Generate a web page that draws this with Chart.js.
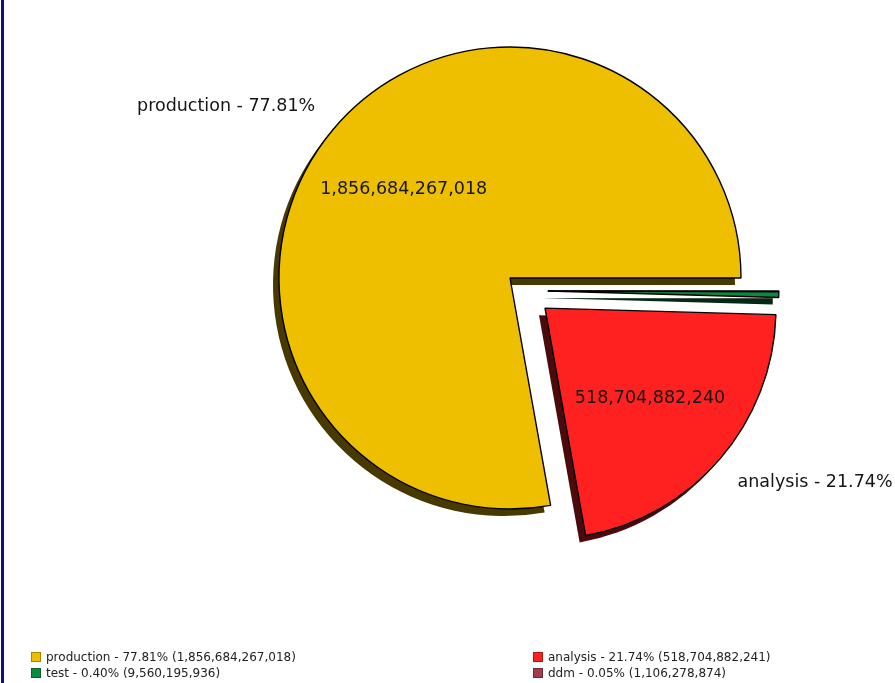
<!DOCTYPE html>
<html><head><meta charset="utf-8">
<script src="https://cdn.jsdelivr.net/npm/chart.js@4/dist/chart.umd.min.js"></script>
<style>
html,body{margin:0;padding:0;background:#fff;}
#wrap{position:relative;width:895px;height:683px;overflow:hidden;background:#fff;}
#c{position:absolute;left:0;top:0;}
#edge{position:absolute;left:1px;top:0;width:3px;height:683px;background:#10107f;}
.leg{position:absolute;font:12px "DejaVu Sans";color:#222;white-space:nowrap;line-height:16px;height:16px;}
.leg i{display:inline-block;width:10px;height:10px;box-sizing:border-box;border:1px solid rgba(0,0,0,.3);vertical-align:-1px;margin-right:5px;}
</style></head>
<body><div id="wrap"><canvas id="c" width="895" height="683"></canvas><div id="edge"></div><div id="legend"></div></div>
<script>
// ---- data ----
const categories = ['production', 'analysis', 'test', 'ddm'];
const values = [1856684267018, 518704882241, 9560195936, 1106278874];
const percentLabels = ['77.81%', '21.74%', '0.40%', '0.05%'];
const valueLabels = ['1,856,684,267,018', '518,704,882,241', '9,560,195,936', '1,106,278,874'];
const wedgeLabels = ['production - 77.81%', 'analysis - 21.74%', '', ''];
const insideLabels = ['1,856,684,267,018', '518,704,882,240', '', ''];

// ---- styles ----
const colors = ['#EEBF00', '#FF2020', '#0B8A3E', '#A43C4E'];

function shade(hex, f) {
  const n = parseInt(hex.slice(1), 16);
  const r = Math.round(((n >> 16) & 255) * f), g = Math.round(((n >> 8) & 255) * f), b = Math.round((n & 255) * f);
  return `rgb(${r},${g},${b})`;
}

// chart draws clockwise from east; original pie runs counter-clockwise, so reverse
const rev = a => a.slice().reverse();
const N = categories.length;

const explodePlugin = {
  id: 'explode',
  afterDatasetsUpdate(chart, args, opts) {
    const meta = chart.getDatasetMeta(0);
    meta.data.forEach((el, j) => {
      const i = N - 1 - j;
      const f = opts.amount[i] || 0;
      if (!f) return;
      const mid = (el.startAngle + el.endAngle) / 2;
      const ang = (opts.angle && opts.angle[i] != null) ? opts.angle[i] * Math.PI / 180 : mid;
      el.x += Math.cos(ang) * f * el.outerRadius;
      el.y += Math.sin(ang) * f * el.outerRadius;
    });
  }
};

const shadowPlugin = {
  id: 'pieShadow',
  beforeDatasetsDraw(chart, args, opts) {
    const ctx = chart.ctx, meta = chart.getDatasetMeta(0), ds = chart.data.datasets[0];
    ctx.save();
    meta.data.forEach((el, j) => {
      const x = el.x + opts.dx, y = el.y + opts.dy;
      ctx.fillStyle = shade(ds.backgroundColor[j], opts.factor);
      ctx.beginPath();
      ctx.moveTo(x, y);
      ctx.arc(x, y, el.outerRadius, el.startAngle, el.endAngle);
      ctx.closePath();
      ctx.fill();
    });
    ctx.restore();
  }
};

const labelPlugin = {
  id: 'pieLabels',
  afterDatasetsDraw(chart, args, opts) {
    const ctx = chart.ctx, meta = chart.getDatasetMeta(0);
    ctx.save();
    ctx.font = opts.font;
    ctx.fillStyle = opts.color;
    meta.data.forEach((el, j) => {
      const i = N - 1 - j;
      const mid = (el.startAngle + el.endAngle) / 2;
      const c = Math.cos(mid), s = Math.sin(mid), r = el.outerRadius;
      if (wedgeLabels[i]) {
        ctx.textAlign = c >= 0 ? 'left' : 'right';
        ctx.textBaseline = s < 0 ? 'bottom' : 'top';
        ctx.fillText(wedgeLabels[i], el.x + opts.labelDistance * r * c, el.y + opts.labelDistance * r * s);
      }
      if (insideLabels[i]) {
        ctx.textAlign = 'center';
        ctx.textBaseline = 'middle';
        ctx.fillText(insideLabels[i], el.x + opts.pctDistance * r * c, el.y + opts.pctDistance * r * s);
      }
    });
    ctx.restore();
  }
};

new Chart(document.getElementById('c'), {
  type: 'pie',
  data: {
    labels: rev(categories),
    datasets: [{
      data: rev(values),
      backgroundColor: rev(colors),
      borderColor: '#000',
      borderWidth: 1.4,
      rotation: 90,
      radius: 231
    }]
  },
  options: {
    responsive: false,
    animation: false,
    events: [],
    layout: { padding: { left: 130, right: 5, top: 0, bottom: 127 } },
    plugins: {
      legend: { display: false },
      tooltip: { enabled: false },
      title: { display: false },
      explode: { amount: [0, 0.2, 0.173, 0.173], angle: [null, null, 19, 19] },
      pieShadow: { dx: -6, dy: 7, factor: 0.3 },
      pieLabels: { font: '17.5px "DejaVu Sans"', color: '#151515', labelDistance: 1.1, pctDistance: 0.6 }
    }
  },
  plugins: [explodePlugin, shadowPlugin, labelPlugin]
});

// legend (two columns, column-major like the original)
const legendPos = [[31, 649], [31, 665], [533, 649], [533, 665]];
const legendOrder = [0, 2, 1, 3];
const legEl = document.getElementById('legend');
legendOrder.forEach((i, k) => {
  const d = document.createElement('div');
  d.className = 'leg';
  d.style.left = legendPos[k][0] + 'px';
  d.style.top = legendPos[k][1] + 'px';
  const box = document.createElement('i');
  box.style.background = colors[i];
  d.appendChild(box);
  d.appendChild(document.createTextNode(`${categories[i]} - ${percentLabels[i]} (${valueLabels[i]})`));
  legEl.appendChild(d);
});
</script>
</body></html>
